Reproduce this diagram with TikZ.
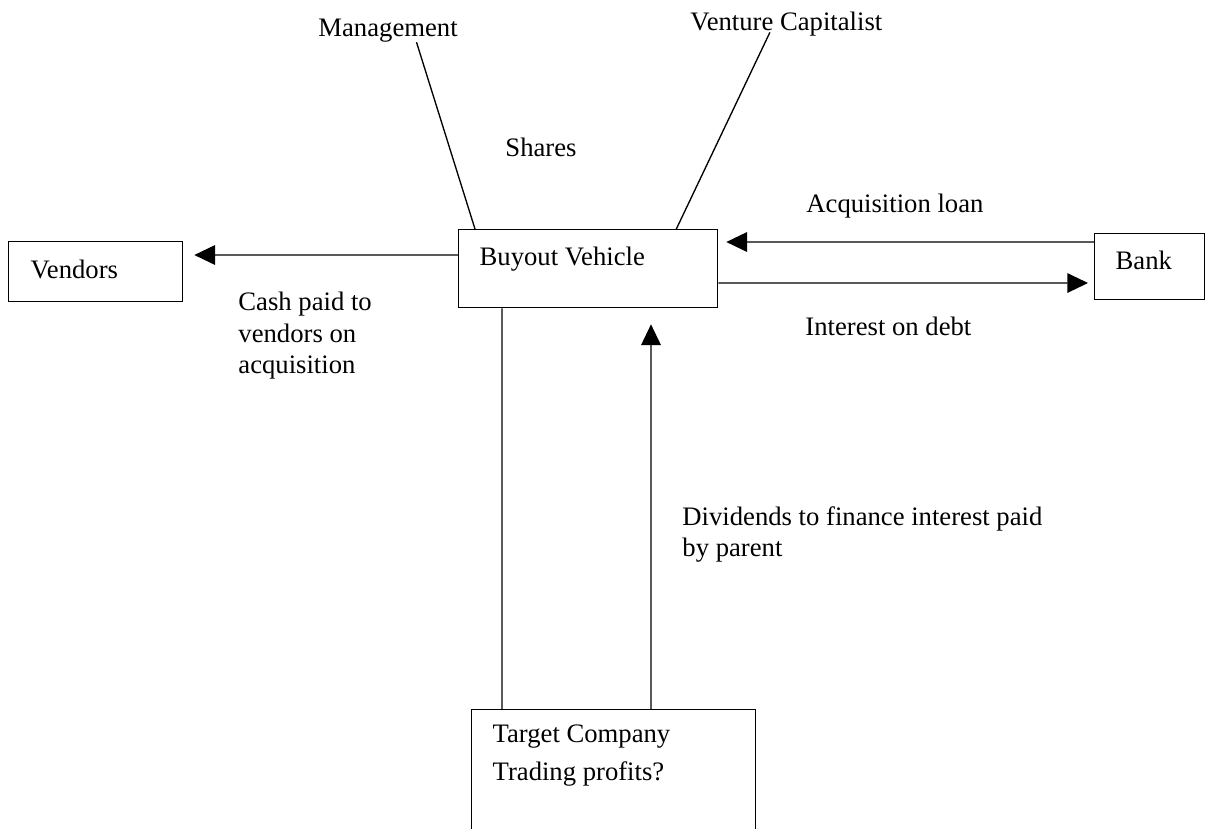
\documentclass[tikz,border=0pt]{standalone}
\usepackage{fontspec}
\setmainfont{Liberation Serif}
\usetikzlibrary{arrows.meta}
\begin{document}
\begin{tikzpicture}[x=0.45pt,y=-0.45pt,font=\fontsize{12}{14}\selectfont,
    box/.style={draw,line width=0.6pt,anchor=north west,inner ysep=0pt,align=flush left},
    lbl/.style={anchor=base west,inner sep=0pt},
    txt/.style={anchor=north west,inner sep=0pt,align=left},
    link/.style={line width=0.6pt},
    flow/.style={line width=0.6pt,-{Triangle[length=9.3pt,width=8.8pt]}}]
    \useasboundingbox (0,0) rectangle (1207,828);
    \clip (0,0) rectangle (1207,828);
    \node[box,inner xsep=9.9pt,text width=58.5pt,text height=16.65pt,text depth=10.35pt] (vend) at (8,241) {Vendors};
    \node[box,inner xsep=9.45pt,text width=97.65pt,text height=16.2pt,text depth=18.9pt] (bv) at (458,229) {Buyout Vehicle};
    \node[box,inner xsep=9.45pt,text width=30.6pt,text height=16.2pt,text depth=13.5pt] (bank) at (1094,233) {Bank};
    \node[box,inner xsep=9.45pt,text width=108.9pt,text height=14.85pt,text depth=48.6pt] (tc) at (471,709) {Target Company\\[3.1pt]Trading profits?};
    \node[lbl] (mgmt) at (318,36) {Management};
    \node[lbl] (vc) at (690,30) {Venture Capitalist};
    \node[lbl] (shares) at (505,156) {Shares};
    \node[lbl] (loan) at (806,212) {Acquisition loan};
    \node[lbl] (intr) at (805,335) {Interest on debt};
    \node[txt] (cash) at (238,292) {Cash paid to\\vendors on\\acquisition};
    \node[txt] (div) at (682,506) {Dividends to finance interest paid\\by parent};
    \draw[link] ([xshift=7.65pt]bv.north west) -- ([xshift=12.8pt]mgmt.south);
    \draw[link] ([xshift=-18.9pt]bv.north east) -- ([shift={(-7.4pt,1.7pt)}]vc.south);
    \draw[flow] ([yshift=-11.7pt]bv.north west) -- ([shift={(4.95pt,-6.3pt)}]vend.north east);
    \draw[flow] ([yshift=-4.05pt]bank.north west) -- ([shift={(3.6pt,-5.85pt)}]bv.north east);
    \draw[flow] ([yshift=-24.3pt]bv.north east) -- ([shift={(-2.7pt,-22.5pt)}]bank.north west);
    \draw[link] ([xshift=19.8pt]bv.south west) -- ([xshift=13.95pt]tc.north west);
    \draw[flow] ([xshift=81pt]tc.north west) -- ([shift={(86.85pt,-7.2pt)}]bv.south west);
\end{tikzpicture}
\end{document}
